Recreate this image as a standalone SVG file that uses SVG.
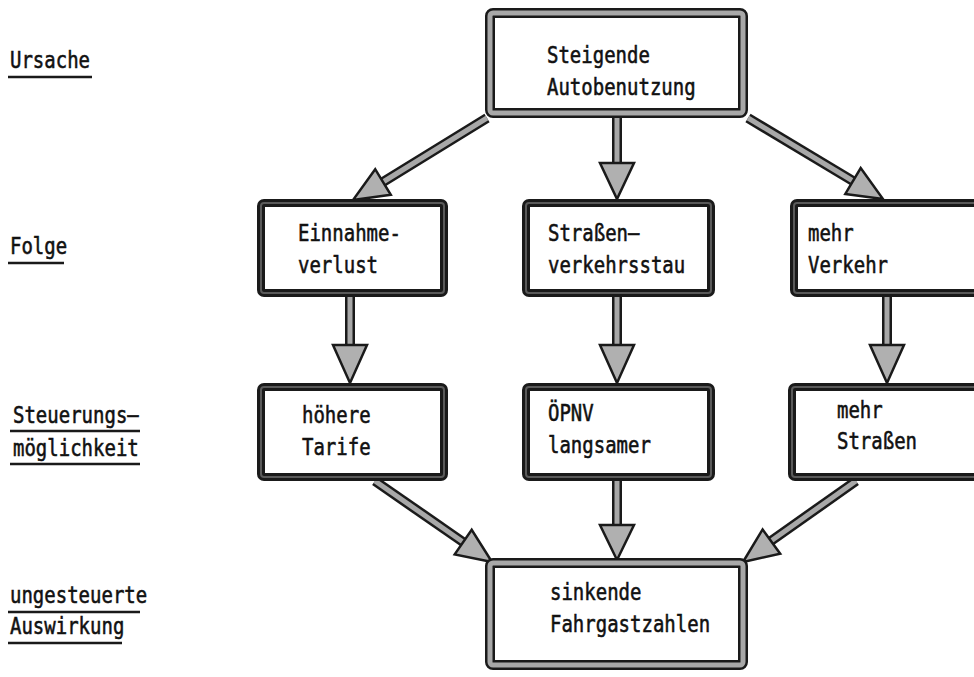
<svg xmlns="http://www.w3.org/2000/svg" width="974" height="677" viewBox="0 0 974 677">
<style>
.t{font-family:"DejaVu Sans Mono","Liberation Mono",monospace;font-size:19px;fill:#111;stroke:#111;stroke-width:0.45}
.bo{fill:#fff;stroke:#1a1a1a;stroke-width:10}
.bi{fill:none;stroke:#a8a8a8;stroke-width:5}
.ro{fill:#fff;stroke:#1a1a1a;stroke-width:8}
.ri{fill:none;stroke:#5a5a5a;stroke-width:2}
.so{stroke:#1a1a1a;stroke-width:10;fill:none}
.si{stroke:#a8a8a8;stroke-width:5;fill:none}
.hd{fill:#b0b0b0;stroke:#1a1a1a;stroke-width:2.5;stroke-linejoin:miter}
.ul{stroke:#1a1a1a;stroke-width:2.5}
</style>
<rect width="974" height="677" fill="#fff"/>
<g id="labels">
<text class="t" transform="translate(10,68) scale(1,1.25)">Ursache</text>
<line class="ul" x1="8" y1="77" x2="92" y2="77"/>
<text class="t" transform="translate(10,254) scale(1,1.25)">Folge</text>
<line class="ul" x1="8" y1="263" x2="64" y2="263"/>
<text class="t" transform="translate(13,423) scale(1,1.25)">Steuerungs—</text>
<line class="ul" x1="10" y1="431" x2="140" y2="431"/>
<text class="t" transform="translate(13,456) scale(1,1.25)">möglichkeit</text>
<line class="ul" x1="10" y1="464" x2="140" y2="464"/>
<text class="t" transform="translate(10,603) scale(1,1.25)">ungesteuerte</text>
<line class="ul" x1="8" y1="612" x2="140" y2="612"/>
<text class="t" transform="translate(10,634) scale(1,1.25)">Auswirkung</text>
<line class="ul" x1="8" y1="643" x2="122" y2="643"/>
</g>
<g id="connectors">
<line class="so" x1="487" y1="118" x2="383" y2="182"/>
<line class="si" x1="487" y1="118" x2="383" y2="182"/>
<polygon class="hd" points="353,200 390.8,194.8 375.2,169.2"/>
<line class="so" x1="748" y1="118" x2="853" y2="181"/>
<line class="si" x1="748" y1="118" x2="853" y2="181"/>
<polygon class="hd" points="883,199 845.3,193.9 860.7,168.1"/>
<line class="so" x1="617" y1="116" x2="617" y2="163"/>
<line class="si" x1="617" y1="116" x2="617" y2="163"/>
<polygon class="hd" points="600,163 634,163 617,199"/>
<line class="so" x1="350" y1="297" x2="350" y2="345"/>
<line class="si" x1="350" y1="297" x2="350" y2="345"/>
<polygon class="hd" points="333,345 367,345 350,383"/>
<line class="so" x1="617" y1="297" x2="617" y2="345"/>
<line class="si" x1="617" y1="297" x2="617" y2="345"/>
<polygon class="hd" points="600,345 634,345 617,383"/>
<line class="so" x1="887" y1="297" x2="887" y2="345"/>
<line class="si" x1="887" y1="297" x2="887" y2="345"/>
<polygon class="hd" points="870,345 904,345 887,383"/>
<line class="so" x1="617" y1="481" x2="617" y2="525"/>
<line class="si" x1="617" y1="481" x2="617" y2="525"/>
<polygon class="hd" points="600,525 634,525 617,560"/>
<line class="so" x1="375" y1="481" x2="463" y2="542"/>
<line class="si" x1="375" y1="481" x2="463" y2="542"/>
<polygon class="hd" points="492,562 454.7,554.4 471.7,529.8"/>
<line class="so" x1="856" y1="481" x2="771" y2="541"/>
<line class="si" x1="856" y1="481" x2="771" y2="541"/>
<polygon class="hd" points="743,562 780.2,553.7 762.6,529.4"/>
</g>
<g id="n-top">
<rect class="bo" x="490" y="13" width="253" height="100" rx="3"/>
<rect class="bi" x="490" y="13" width="253" height="100" rx="3"/>
<text class="t" transform="translate(547,63) scale(1,1.25)">Steigende</text>
<text class="t" transform="translate(547,95) scale(1,1.25)">Autobenutzung</text>
</g>
<g id="n-einnahme">
<rect class="ro" x="261" y="203" width="183" height="90" rx="3"/>
<rect class="ri" x="261" y="203" width="183" height="90" rx="3"/>
<text class="t" transform="translate(298,241) scale(1,1.25)">Einnahme-</text>
<text class="t" transform="translate(298,273) scale(1,1.25)">verlust</text>
</g>
<g id="n-stau">
<rect class="ro" x="526" y="203" width="185" height="90" rx="3"/>
<rect class="ri" x="526" y="203" width="185" height="90" rx="3"/>
<text class="t" transform="translate(548,241) scale(1,1.25)">Straßen—</text>
<text class="t" transform="translate(548,273) scale(1,1.25)">verkehrsstau</text>
</g>
<g id="n-verkehr">
<rect class="ro" x="794" y="203" width="190" height="90" rx="3"/>
<rect class="ri" x="794" y="203" width="190" height="90" rx="3"/>
<text class="t" transform="translate(808,241) scale(1,1.25)">mehr</text>
<text class="t" transform="translate(808,273) scale(1,1.25)">Verkehr</text>
</g>
<g id="n-tarife">
<rect class="ro" x="261" y="387" width="183" height="90" rx="3"/>
<rect class="ri" x="261" y="387" width="183" height="90" rx="3"/>
<text class="t" transform="translate(302,423) scale(1,1.25)">höhere</text>
<text class="t" transform="translate(302,455) scale(1,1.25)">Tarife</text>
</g>
<g id="n-oepnv">
<rect class="ro" x="526" y="387" width="185" height="90" rx="3"/>
<rect class="ri" x="526" y="387" width="185" height="90" rx="3"/>
<text class="t" transform="translate(548,421) scale(1,1.25)">ÖPNV</text>
<text class="t" transform="translate(548,453) scale(1,1.25)">langsamer</text>
</g>
<g id="n-strassen">
<rect class="ro" x="792" y="387" width="192" height="90" rx="3"/>
<rect class="ri" x="792" y="387" width="192" height="90" rx="3"/>
<text class="t" transform="translate(837,418) scale(1,1.25)">mehr</text>
<text class="t" transform="translate(837,449) scale(1,1.25)">Straßen</text>
</g>
<g id="n-bottom">
<rect class="bo" x="490" y="563" width="253" height="102" rx="3"/>
<rect class="bi" x="490" y="563" width="253" height="102" rx="3"/>
<text class="t" transform="translate(550,600) scale(1,1.25)">sinkende</text>
<text class="t" transform="translate(550,632) scale(1,1.25)">Fahrgastzahlen</text>
</g>
</svg>
